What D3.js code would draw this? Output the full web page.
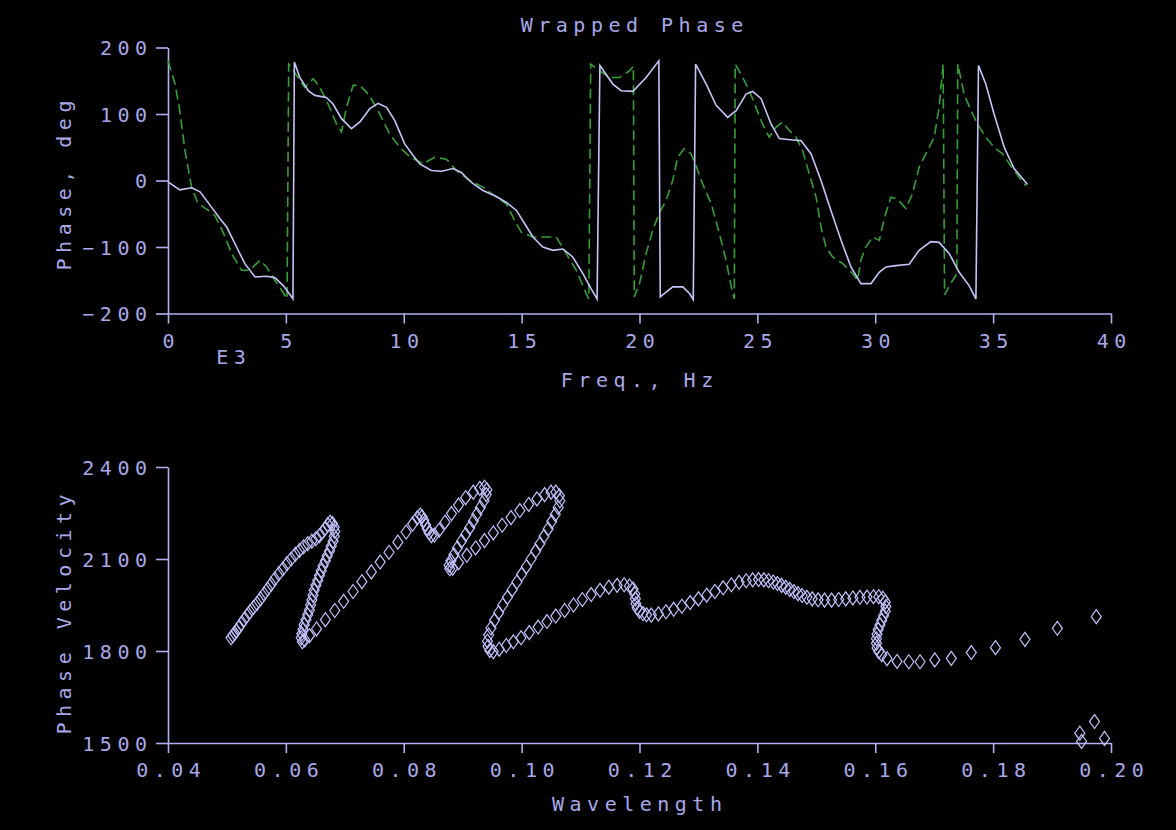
<!DOCTYPE html>
<html>
<head>
<meta charset="utf-8">
<script src="https://cdn.jsdelivr.net/npm/d3@7"></script>
<style>
  html, body { margin: 0; padding: 0; background: #000; }
  svg { display: block; }
  text { font-family: "DejaVu Sans Mono", monospace; font-size: 20px; fill: #a8a8e8; letter-spacing: 5.5px; }
</style>
</head>
<body>
<svg id="chart" width="1176" height="830"></svg>
<script>
// wrapped phase, solid curve (freq in kHz, phase in deg)
const solidFreq = [0.00, 0.50, 1.00, 1.36, 1.78, 2.20, 2.49, 2.91, 3.26, 3.69, 4.18, 4.53, 4.89, 5.20, 5.30,
  5.36, 5.59, 5.95, 6.23, 6.72, 7.00, 7.36, 7.78, 8.14, 8.56, 8.91, 9.27, 9.62, 10.04, 10.39, 10.68,
  11.17, 11.60, 12.09, 12.44, 12.87, 13.36, 13.93, 14.35, 14.78, 15.13, 15.48, 15.90, 16.33, 16.75,
  17.17, 17.60, 17.95, 18.20, 18.32, 18.87, 19.22, 19.72, 20.28, 20.82, 20.88, 21.41, 21.84, 22.12,
  22.28, 22.38, 22.83, 23.25, 23.74, 24.10, 24.52, 24.80, 25.16, 25.58, 25.93, 26.50, 26.85, 27.28,
  27.70, 28.12, 28.55, 28.97, 29.39, 29.82, 30.17, 30.45, 30.88, 31.44, 31.86, 32.36, 32.71, 33.14,
  33.56, 33.98, 34.27, 34.38, 34.69, 35.04, 35.47, 35.89, 36.39, 36.46];
const solidPhase = [-2, -14, -11, -17, -37, -57, -70, -100, -125, -145, -144, -146, -158, -173, -178,
  178, 155, 135, 128, 125, 115, 93, 78, 88, 108, 116, 110, 90, 55, 38, 25,
  15, 14, 18, 12, -3, -15, -24, -33, -45, -65, -85, -100, -105, -103,
  -115, -140, -163, -178, 173, 145, 135, 134, 155, 180, -175, -160, -160, -170,
  -179, 175, 145, 113, 95, 105, 130, 134, 123, 85, 63, 61, 60, 40,
  0, -45, -90, -130, -155, -155, -138, -130, -128, -126, -105, -92, -93, -110,
  -138, -158, -178, 173, 145, 100, 50, 18, -3, -6];

// wrapped phase, dashed curve
const dashFreq = [0.00, 0.30, 0.50, 0.72, 1.00, 1.28, 1.64, 1.99, 2.34, 2.70, 3.12, 3.47, 3.90, 4.18, 4.53,
  4.82, 5.05, 5.12, 5.52, 5.80, 6.16, 6.44, 6.79, 7.15, 7.36, 7.57, 7.85, 8.14, 8.49, 8.84, 9.40,
  9.83, 10.25, 10.82, 11.31, 11.81, 12.23, 12.80, 13.36, 13.93, 14.35, 14.70, 14.99, 15.48, 16.05,
  16.47, 16.89, 17.32, 17.74, 17.85, 17.93, 18.30, 18.73, 19.15, 19.58, 19.74, 19.78, 20.00, 20.28,
  20.56, 20.85, 21.13, 21.41, 21.62, 21.90, 22.19, 22.40, 22.68, 23.04, 23.39, 23.67, 23.95, 24.02,
  24.06, 24.38, 24.66, 24.94, 25.22, 25.50, 25.79, 26.07, 26.36, 26.64, 26.92, 27.20, 27.49, 27.70,
  27.91, 28.19, 28.62, 29.04, 29.25, 29.39, 29.60, 29.89, 30.17, 30.40, 30.67, 30.95, 31.30, 31.58,
  31.86, 32.22, 32.50, 32.71, 32.88, 32.94, 33.20, 33.46, 33.50, 33.77, 34.06, 34.34, 34.69, 35.04,
  35.40, 35.75, 36.10, 36.39];
const dashPhase = [180, 145, 105, 45, -10, -35, -43, -53, -78, -110, -135, -135, -120, -130, -150,
  -165, -178, 175, 155, 140, 153, 140, 115, 85, 73, 110, 143, 143, 130, 110, 70,
  50, 36, 25, 35, 32, 15, 0, -10, -25, -35, -60, -78, -85, -85,
  -85, -110, -135, -170, -178, 175, 165, 155, 155, 165, 172, -175, -155, -110,
  -75, -48, -30, 0, 35, 48, 40, 22, -5, -35, -80, -120, -170, -178,
  175, 155, 135, 110, 85, 65, 80, 88, 75, 65, 45, 10, -25, -70,
  -100, -115, -125, -140, -150, -120, -100, -85, -90, -55, -25, -28, -42, -20,
  20, 45, 65, 110, 175, -172, -155, -140, 175, 130, 105, 85, 65, 50,
  40, 22, 5, -8];

// phase velocity vs wavelength (diamonds)
const wavelength = [0.0507, 0.0510, 0.0513, 0.0516, 0.0520, 0.0524, 0.0529, 0.0534, 0.0539, 0.0545, 0.0551,
  0.0557, 0.0563, 0.0569, 0.0575, 0.0581, 0.0588, 0.0595, 0.0602, 0.0609, 0.0616, 0.0623, 0.0630,
  0.0637, 0.0644, 0.0651, 0.0657, 0.0662, 0.0667, 0.0671, 0.0675, 0.0679, 0.0682,
  0.0683, 0.0682, 0.0680, 0.0677, 0.0674, 0.0670, 0.0667, 0.0663, 0.0660, 0.0657, 0.0654, 0.0651,
  0.0648, 0.0646, 0.0644, 0.0642, 0.0640, 0.0637, 0.0634, 0.0631, 0.0629, 0.0627, 0.0626, 0.0628,
  0.0632, 0.0640, 0.0652, 0.0667, 0.0683, 0.0698, 0.0714, 0.0729, 0.0745, 0.0760, 0.0775, 0.0790,
  0.0804, 0.0815, 0.0823, 0.0828,
  0.0831, 0.0834, 0.0837, 0.0840, 0.0843, 0.0847, 0.0852,
  0.0860, 0.0870, 0.0881, 0.0893, 0.0905, 0.0918, 0.0929, 0.0937, 0.0941,
  0.0940, 0.0936, 0.0930, 0.0924, 0.0918, 0.0912, 0.0905, 0.0898, 0.0891, 0.0885, 0.0880, 0.0877,
  0.0878, 0.0883,
  0.0893, 0.0907, 0.0922, 0.0937, 0.0952, 0.0967, 0.0982, 0.0997, 0.1012, 0.1026, 0.1039, 0.1050,
  0.1058, 0.1064,
  0.1065, 0.1062, 0.1057, 0.1051, 0.1045, 0.1038, 0.1031, 0.1024, 0.1016, 0.1008, 0.1000, 0.0992,
  0.0984, 0.0976, 0.0968, 0.0961, 0.0954, 0.0948, 0.0944, 0.0942, 0.0943, 0.0946, 0.0952,
  0.0962, 0.0974, 0.0986, 0.0999, 0.1013, 0.1028, 0.1043, 0.1058, 0.1073, 0.1088, 0.1103, 0.1118,
  0.1133, 0.1148, 0.1162, 0.1174, 0.1183, 0.1189, 0.1192, 0.1193, 0.1194, 0.1196, 0.1200, 0.1206,
  0.1212, 0.1220,
  0.1232, 0.1245, 0.1258, 0.1272, 0.1286, 0.1300, 0.1314, 0.1328, 0.1342, 0.1356, 0.1369, 0.1381,
  0.1392, 0.1402, 0.1411, 0.1419, 0.1427, 0.1434, 0.1441, 0.1448, 0.1455, 0.1462, 0.1469, 0.1476,
  0.1484, 0.1493, 0.1503, 0.1514, 0.1526, 0.1538, 0.1550, 0.1562, 0.1574, 0.1586, 0.1597, 0.1606,
  0.1613, 0.1617, 0.1618, 0.1617, 0.1614, 0.1611, 0.1608, 0.1605, 0.1603, 0.1602, 0.1602, 0.1603,
  0.1606, 0.1611, 0.1620, 0.1637, 0.1657, 0.1676, 0.1701, 0.1729, 0.1763, 0.1804, 0.1854, 0.1909,
  0.1975, 0.1972, 0.1947, 0.1950, 0.1989];
const velocity = [1843, 1850, 1858, 1866, 1876, 1888, 1902, 1915, 1928, 1942, 1955,
  1970, 1986, 2002, 2018, 2035, 2052, 2068, 2085, 2100, 2115, 2128, 2140,
  2150, 2158, 2166, 2176, 2188, 2200, 2212, 2220, 2216, 2204,
  2190, 2174, 2158, 2142, 2126, 2110, 2094, 2078, 2062, 2046, 2030, 2014,
  1998, 1982, 1966, 1950, 1934, 1918, 1902, 1886, 1870, 1856, 1843, 1830,
  1836, 1850, 1872, 1902, 1932, 1962, 1994, 2026, 2058, 2090, 2122, 2155,
  2188, 2214, 2234, 2243,
  2238, 2226, 2212, 2198, 2186, 2176, 2178,
  2194, 2220, 2248, 2276, 2300, 2318, 2330, 2334, 2326,
  2310, 2290, 2268, 2246, 2224, 2202, 2180, 2158, 2136, 2114, 2094, 2080,
  2068, 2070,
  2088, 2112, 2136, 2160, 2185, 2210, 2235, 2258, 2278, 2296, 2310, 2318,
  2318, 2306,
  2290, 2268, 2245, 2222, 2198, 2174, 2150, 2126, 2100, 2075, 2050, 2025,
  2000, 1975, 1950, 1925, 1900, 1875, 1852, 1832, 1815, 1802, 1798,
  1806, 1818, 1830, 1843, 1860, 1878, 1896, 1914, 1932, 1950, 1968, 1984,
  1998, 2008, 2014, 2016, 2012, 2002, 1986, 1970, 1954, 1940, 1930, 1922,
  1918, 1917,
  1921, 1928, 1936, 1946, 1958, 1970, 1982, 1994, 2006, 2016, 2024, 2029,
  2032, 2033, 2032, 2029, 2025, 2020, 2014, 2008, 2001, 1994, 1987, 1981,
  1975, 1970, 1967, 1966, 1966, 1968, 1970, 1973, 1975, 1976, 1977, 1977,
  1972, 1960, 1945, 1930, 1915, 1900, 1885, 1870, 1855, 1840, 1825, 1810,
  1798, 1788, 1775, 1766, 1765, 1765, 1771, 1776, 1795, 1811, 1838, 1874,
  1912, 1570, 1532, 1505, 1515];

const freqTicks = [0, 5, 10, 15, 20, 25, 30, 35, 40];
const phaseTicks = [-200, -100, 0, 100, 200];
const wlTicks = [0.04, 0.06, 0.08, 0.10, 0.12, 0.14, 0.16, 0.18, 0.20];
const velTicks = [1500, 1800, 2100, 2400];

const axisColor = '#b0b0ee';
const lineColor = '#c4c4f6';
const dashColor = '#33a033';
const ls = 5.5; // letter spacing, trailing space has to be compensated

const svg = d3.select('#chart');
svg.append('rect').attr('width', 1176).attr('height', 830).attr('fill', '#000');

// ---------- top: wrapped phase ----------
const x1 = d3.scaleLinear().domain([0, 40]).range([168, 1111]);
const y1 = d3.scaleLinear().domain([-200, 200]).range([313.5, 47.5]);

// ---------- bottom: phase velocity ----------
const x2 = d3.scaleLinear().domain([0.04, 0.20]).range([168, 1111]);
const y2 = d3.scaleLinear().domain([1500, 2400]).range([743, 467]);

function drawAxes(x, y, xTicks, yTicks, xFmt, yFmt) {
  let gx = svg.append('g')
    .attr('transform', 'translate(0,' + y.range()[0] + ')')
    .call(d3.axisBottom(x).tickValues(xTicks).tickFormat(xFmt).tickSize(10).tickSizeOuter(0));
  let gy = svg.append('g')
    .attr('transform', 'translate(' + x.range()[0] + ',0)')
    .call(d3.axisLeft(y).tickValues(yTicks).tickFormat(yFmt).tickSize(12).tickSizeOuter(0));

  [gx, gy].forEach(g => {
    g.select('.domain').attr('stroke', axisColor).attr('stroke-width', 1.6);
    g.selectAll('.tick line').attr('stroke', axisColor).attr('stroke-width', 1.6);
    g.selectAll('text')
      .attr('fill', '#a8a8e8')
      .style('font-family', '"DejaVu Sans Mono", monospace')
      .style('font-size', '20px');
  });
  gx.selectAll('.tick text').attr('y', 34).attr('dy', 0).attr('dx', ls / 2);
  gy.selectAll('.tick text').attr('x', -21 + ls).attr('dy', '0.36em');
}

drawAxes(x1, y1, freqTicks, phaseTicks, d3.format('d'), d3.format('d'));
drawAxes(x2, y2, wlTicks, velTicks, d3.format('.2f'), d3.format('d'));

// curves
let line1 = d3.line().x(d => x1(d[0])).y(d => y1(d[1]));

svg.append('path')
  .datum(dashFreq.map((f, i) => [f, dashPhase[i]]))
  .attr('d', line1)
  .attr('fill', 'none')
  .attr('stroke', dashColor)
  .attr('stroke-width', 1.6)
  .attr('stroke-dasharray', '10,5');

svg.append('path')
  .datum(solidFreq.map((f, i) => [f, solidPhase[i]]))
  .attr('d', line1)
  .attr('fill', 'none')
  .attr('stroke', lineColor)
  .attr('stroke-width', 1.6);

// diamonds
svg.append('g').selectAll('path')
  .data(wavelength.map((w, i) => [w, velocity[i]]))
  .enter().append('path')
  .attr('transform', d => 'translate(' + x2(d[0]) + ',' + y2(d[1]) + ')')
  .attr('d', 'M0,-7L5,0L0,7L-5,0Z')
  .attr('fill', 'none')
  .attr('stroke', '#c0c0fa')
  .attr('stroke-width', 1.2);

// titles and axis labels
svg.append('text').attr('x', 632 + ls / 2).attr('y', 32).attr('text-anchor', 'middle').text('Wrapped Phase');
svg.append('text').attr('x', 231 + ls / 2).attr('y', 364).attr('text-anchor', 'middle').text('E3');
svg.append('text').attr('x', 637 + ls / 2).attr('y', 387).attr('text-anchor', 'middle').text('Freq., Hz');
svg.append('text').attr('x', 637 + ls / 2).attr('y', 811).attr('text-anchor', 'middle').text('Wavelength');

svg.append('text')
  .attr('transform', 'translate(71,' + (180 + ls / 2) + ') rotate(-90)')
  .attr('text-anchor', 'middle').text('Phase, deg');
svg.append('text')
  .attr('transform', 'translate(71,' + (609 + ls / 2) + ') rotate(-90)')
  .attr('text-anchor', 'middle').text('Phase Velocity');
</script>
</body>
</html>
